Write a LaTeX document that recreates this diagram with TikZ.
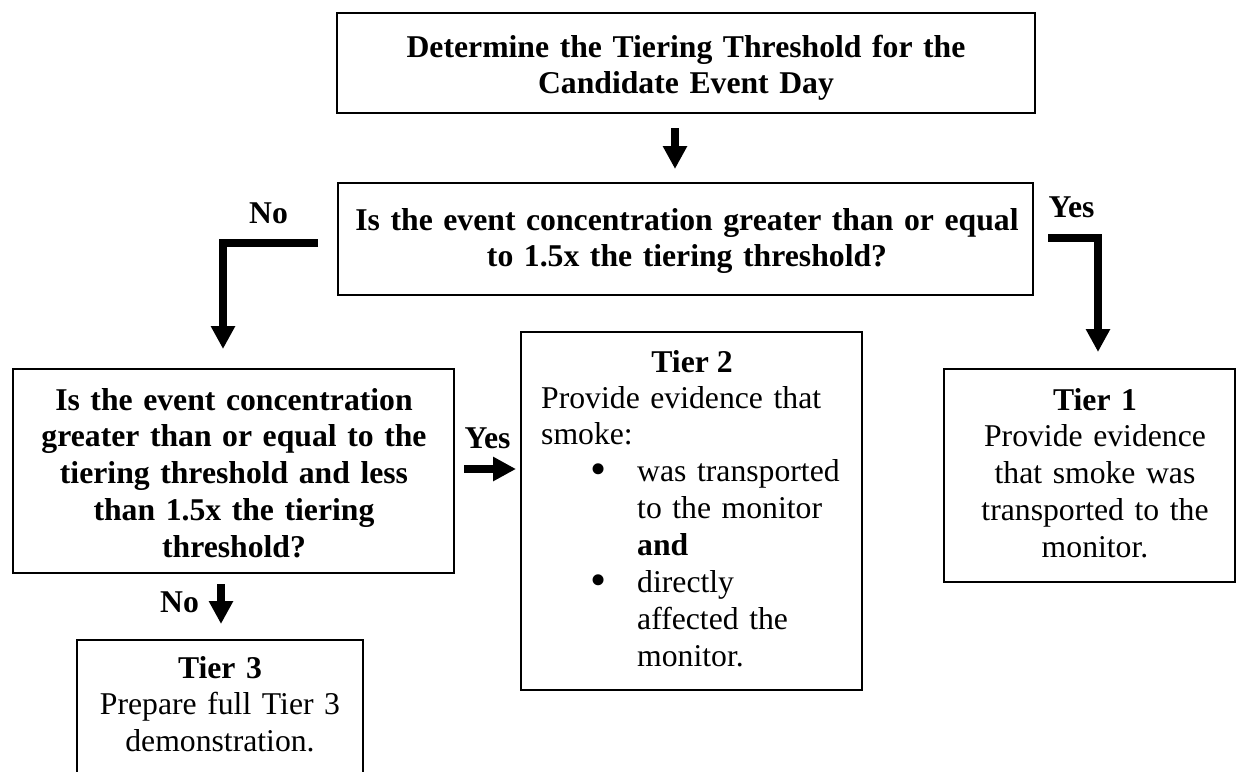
\documentclass[tikz,border=0pt]{standalone}
\usepackage{fontspec}
\setmainfont{Liberation Serif}
\usetikzlibrary{arrows.meta,calc}
\newcommand{\bigbul}{\raisebox{-3pt}{\fontsize{46}{0}\selectfont\textbullet}}
\begin{document}
\begin{tikzpicture}[x=1pt,y=-1pt,
  box/.style={draw,line width=2pt,rectangle,inner sep=0pt},
  txt/.style={inner sep=0pt,align=center,anchor=base,font=\fontsize{31.7}{36.9}\selectfont},
  btxt/.style={txt,font=\bfseries\fontsize{31.7}{36.9}\selectfont},
  fat/.style={line width=7.5pt,line join=miter,-{Triangle[width=23pt,length=23pt]}},
]
\useasboundingbox (0,0) rectangle (1238,771);
\clip (0,0) rectangle (1238,771);
\fill[white] (0,0) rectangle (1238,771);

% boxes
\node[box,minimum width=698pt,minimum height=100pt] (b1) at (686,63) {};
\node[btxt,text width=680pt] (b1t) at (686,57) {Determine the Tiering Threshold for the\\Candidate Event Day};

\node[box,minimum width=695pt,minimum height=112pt] (b2) at (685.5,239) {};
\node[btxt,text width=680pt] (b2t) at (687,230) {Is the event concentration greater than or equal\\to 1.5x the tiering threshold?};

\node[box,minimum width=441pt,minimum height=204pt] (b3) at (233.5,471) {};
\node[btxt,text width=430pt] (b3t) at (234,410) {Is the event concentration\\greater than or equal to the\\tiering threshold and less\\than 1.5x the tiering\\threshold?};

\node[box,minimum width=291pt,minimum height=213pt] (t1) at (1089.5,475.5) {};
\node[txt,text width=280pt] (t1t) at (1095,410) {\textbf{Tier 1}\\Provide evidence\\that smoke was\\transported to the\\monitor.};

\node[box,minimum width=341pt,minimum height=358pt] (t2) at (691.5,511) {};
\node[btxt] (t2h) at (692,372) {Tier 2};
\node[txt,align=left,anchor=base west,text width=320pt] (t2b) at (541,408) {Provide evidence that\\smoke:\\\hspace*{49pt}\makebox[47pt][l]{\bigbul}was transported\\\hspace*{96pt}to the monitor\\\hspace*{96pt}\textbf{and}\\\hspace*{49pt}\makebox[47pt][l]{\bigbul}directly\\\hspace*{96pt}affected the\\\hspace*{96pt}monitor.};

\node[box,minimum width=286pt,minimum height=200pt] (t3) at (220,740) {};
\node[txt,text width=280pt] (t3t) at (220,678) {\textbf{Tier 3}\\Prepare full Tier 3\\demonstration.};

% labels
\node[btxt] (lno1) at (268.5,223) {No};
\node[btxt] (lyes1) at (1071.5,217) {Yes};
\node[btxt] (lyes2) at (487.5,448) {Yes};
\node[btxt] (lno2) at (179.5,612) {No};

% connectors
\draw[fat] ($(b1.south)+(-11,14)$) -- ($(b2.north)+(-10.5,-13)$);
\draw[fat] ($(b2.west)+(-19,4)$) -| ($(b3.north)+(-10.5,-19)$);
\draw[fat] ($(b2.east)+(14,-1)$) -| ($(t1.north)+(8.5,-16)$);
\draw[fat] ($(b3.east)+(9,-2)$) -- ($(t2.west |- b3.east)+(-4,-2)$);
\draw[fat] ($(b3.south)+(-12.5,10)$) -- ($(t3.north)+(1,-15)$);
\end{tikzpicture}
\end{document}
